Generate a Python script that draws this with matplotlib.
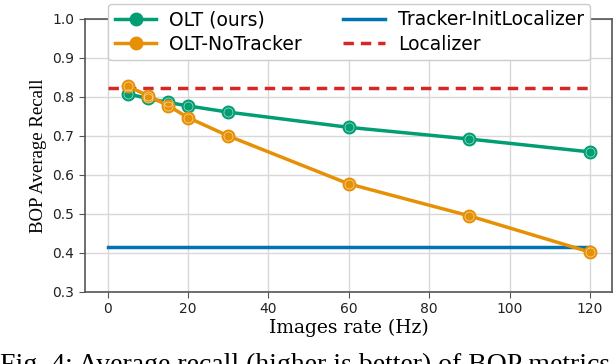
import matplotlib.pyplot as plt

rates = [5, 10, 15, 20, 30, 60, 90, 120]
olt_ours = [0.808, 0.796, 0.786, 0.777, 0.761, 0.722, 0.692, 0.659]
olt_notracker = [0.828, 0.803, 0.778, 0.747, 0.700, 0.577, 0.495, 0.402]
const_x = [0, 120]
tracker_init = [0.415, 0.415]
localizer = [0.822, 0.822]

green = '#029e73'
orange = '#e69005'
blue = '#0173b2'
red = '#d62728'

fig = plt.figure(figsize=(6.14, 3.64), dpi=100)
ax = fig.add_axes([0.138, 0.198, 0.859, 0.75])

for vals, col, lab in [(olt_ours, green, 'OLT (ours)'), (olt_notracker, orange, 'OLT-NoTracker')]:
    ax.plot(rates, vals, color=col, lw=2.5, marker='o', ms=9, mec=col, label=lab, zorder=3)
    ax.plot(rates, vals, ls='none', marker='o', ms=6.5, mfc='none', mec='white', mew=0.4,
            alpha=0.8, zorder=4)

ax.plot(const_x, tracker_init, color=blue, lw=2.5, label='Tracker-InitLocalizer', zorder=2)
ax.plot(const_x, localizer, color=red, lw=2.5, ls=(0, (3, 2)), label='Localizer', zorder=2)

ax.set_xlim(-5.7, 125.5)
ax.set_ylim(0.3, 1.0)
ax.set_xticks(range(0, 121, 20))
ax.grid(True, color='#d8d8d8', lw=1.0)
ax.set_axisbelow(True)
for s in ax.spines.values():
    s.set_color('#555555')
    s.set_linewidth(1.2)
ax.tick_params(colors='#222222', labelsize=10, length=4, color='#555555')

ax.set_xlabel('Images rate (Hz)', family='DejaVu Serif', fontsize=13.5, labelpad=2)
ax.set_ylabel('BOP Average Recall', family='Liberation Serif', fontsize=13.5, labelpad=4)

ax.legend(ncol=2, loc='upper center', bbox_to_anchor=(0.502, 1.09), fontsize=13.5,
          handlelength=2.2, handletextpad=0.7, columnspacing=2.2, borderpad=0.35,
          labelspacing=0.3, framealpha=1.0, edgecolor='#cccccc', fancybox=True)

# caption of the paper figure, cut by the bottom edge as in the source image
fig.text(0.0, 0.03, 'Fig. 4: Average recall (higher is better) of BOP metrics',
         family='Liberation Serif', fontsize=20, va='top', ha='left')

fig.savefig('out.png', dpi=100)
